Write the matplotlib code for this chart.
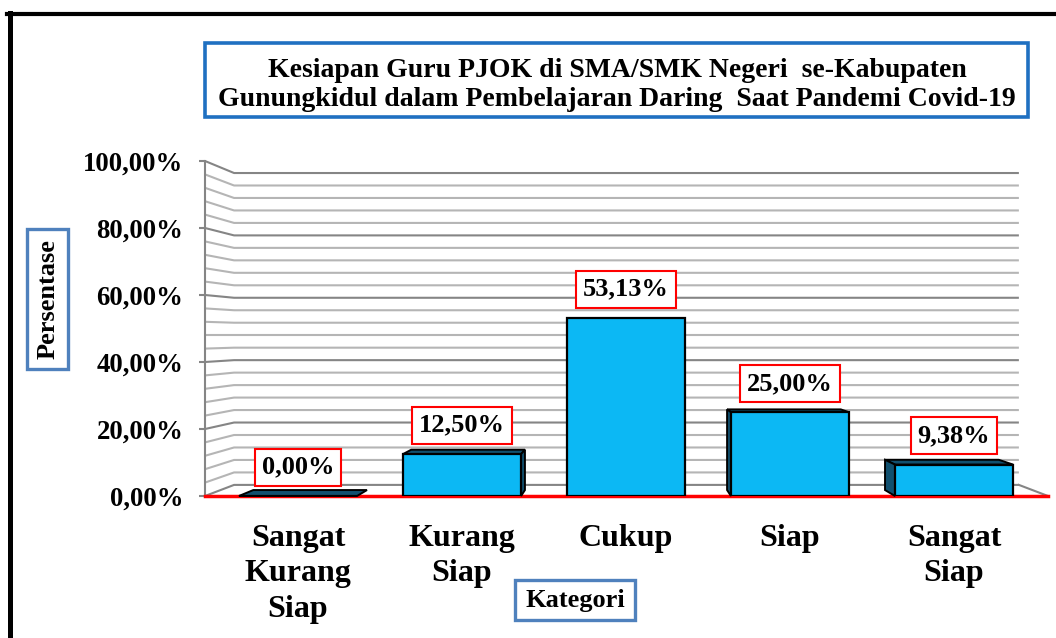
import matplotlib
matplotlib.use("Agg")
import numpy as np
import matplotlib.pyplot as plt
from matplotlib.patches import Polygon, Rectangle
from matplotlib.lines import Line2D
from matplotlib.ticker import FuncFormatter

# ---------------- data ----------------
categories = ["Sangat\nKurang\nSiap", "Kurang\nSiap", "Cukup", "Siap", "Sangat\nSiap"]
values = [0.00, 12.50, 53.13, 25.00, 9.38]
value_labels = ["0,00%", "12,50%", "53,13%", "25,00%", "9,38%"]
yticks = [0, 20, 40, 60, 80, 100]
title = ("Kesiapan Guru PJOK di SMA/SMK Negeri  se-Kabupaten\n"
         "Gunungkidul dalam Pembelajaran Daring  Saat Pandemi Covid-19")
xlabel = "Kategori"
ylabel = "Persentase"

# ---------------- style ----------------
FONT = "Liberation Serif"
FRONT = "#0CB8F4"
DARK = "#11506F"
GRID_MAJOR = "#858585"
GRID_MINOR = "#b5b5b5"

W, H = 1056, 638
fig = plt.figure(figsize=(W / 100, H / 100), dpi=100)
fig.patch.set_facecolor("white")

XMIN, XMAX = -0.567, 4.573
ax = fig.add_axes([205 / W, (H - 496) / H, 843 / W, 335 / H])
ax.set_xlim(XMIN, XMAX)
ax.set_ylim(0, 100)
ax.set_facecolor("none")

VP = (2.0, 48.0)      # vanishing point (data coords)
S_WALL = 0.931        # depth of back wall
S_BAR = 0.963         # depth of bars


def back(x, y, s):
    return VP[0] + (x - VP[0]) * s, VP[1] + (y - VP[1]) * s


# back wall + side wall gridlines
for v in np.arange(0, 101, 4):
    major = (v % 20 == 0)
    xb, yb = back(XMIN, v, S_WALL)
    xr, _ = back(XMAX, v, S_WALL)
    ax.plot([XMIN, xb, xr], [v, yb, yb], color=GRID_MAJOR if major else GRID_MINOR,
            lw=1.5, zorder=1, clip_on=False, solid_capstyle="butt")

# right floor edge
xr0, yr0 = back(XMAX, 0, S_WALL)
ax.plot([xr0, XMAX], [yr0, 0], color=GRID_MAJOR, lw=1.5, zorder=1, clip_on=False)

# red floor line
ax.plot([XMIN, XMAX], [0, 0], color="#FF0000", lw=2.5, zorder=2, clip_on=False)

# bars
xpos = np.arange(len(categories))
bars = ax.bar(xpos, values, width=0.72, color=FRONT, edgecolor="black",
              linewidth=1.6, zorder=4)

for i, (b, h) in enumerate(zip(bars, values)):
    x0 = b.get_x()
    x1 = x0 + b.get_width()
    # top face
    top = [(x0, h), (x1, h), back(x1, h, S_BAR), back(x0, h, S_BAR)]
    ax.add_patch(Polygon(top, closed=True, fc=DARK, ec="black", lw=1.4, zorder=3,
                         clip_on=False))
    # side face (inner side, facing the centre)
    if xpos[i] < VP[0]:
        xs = x1
    elif xpos[i] > VP[0]:
        xs = x0
    else:
        xs = None
    if xs is not None and h > 0:
        side = [(xs, 0), (xs, h), back(xs, h, S_BAR), back(xs, 0, S_BAR)]
        ax.add_patch(Polygon(side, closed=True, fc=DARK, ec="black", lw=1.4,
                             zorder=3, clip_on=False))
    ax.annotate(value_labels[i], xy=(xpos[i], h), xytext=(0, 12.5),
                textcoords="offset points", ha="center", va="bottom",
                fontsize=19, fontweight="bold", family=FONT, zorder=6,
                bbox=dict(boxstyle="square,pad=0.27", fc="white", ec="#FF0000", lw=1.5))

# axes styling
for s in ["top", "right", "bottom"]:
    ax.spines[s].set_visible(False)
ax.spines["left"].set_color(GRID_MAJOR)
ax.spines["left"].set_linewidth(1.5)
ax.spines["left"].set_zorder(1)

ax.set_yticks(yticks)
ax.yaxis.set_major_formatter(FuncFormatter(lambda v, p: f"{v:.2f}%".replace(".", ",")))
ax.tick_params(axis="y", length=4, width=1.5, color=GRID_MAJOR, pad=11.5)
for lab in ax.get_yticklabels():
    lab.set_fontfamily(FONT)
    lab.set_fontweight("bold")
    lab.set_fontsize(19.3)

ax.set_xticks(xpos)
ax.set_xticklabels(categories, fontsize=23, fontweight="bold", family=FONT,
                   linespacing=1.3)
ax.tick_params(axis="x", length=0, pad=20)

# title box
fig.add_artist(Rectangle((205 / W, 1 - 117 / H), 823 / W, 74 / H, transform=fig.transFigure,
                         fill=False, ec="#1F70C1", lw=2.6))
fig.text(617 / W, 1 - 85 / H, title, ha="center", va="center", fontsize=20,
         fontweight="bold", family=FONT, linespacing=1.22)

# y label box
fig.add_artist(Rectangle((27 / W, 1 - 369 / H), 41 / W, 140 / H, transform=fig.transFigure,
                         fill=False, ec="#4F81BD", lw=2.4))
fig.text(48 / W, 1 - 299 / H, ylabel, ha="center", va="center", rotation=90,
         fontsize=19, fontweight="bold", family=FONT)

# x label box
fig.add_artist(Rectangle((515 / W, 1 - 620 / H), 120 / W, 40 / H, transform=fig.transFigure,
                         fill=False, ec="#4F81BD", lw=2.4))
fig.text(575 / W, 1 - 601 / H, xlabel, ha="center", va="center",
         fontsize=19, fontweight="bold", family=FONT)

# outer frame lines
fig.add_artist(Line2D([7 / W, 1], [1 - 14 / H, 1 - 14 / H], transform=fig.transFigure,
                      color="black", lw=3))
fig.add_artist(Line2D([9.5 / W, 9.5 / W], [0, 1 - 12.5 / H], transform=fig.transFigure,
                      color="black", lw=3.6))

fig.savefig("out.png", dpi=100)
